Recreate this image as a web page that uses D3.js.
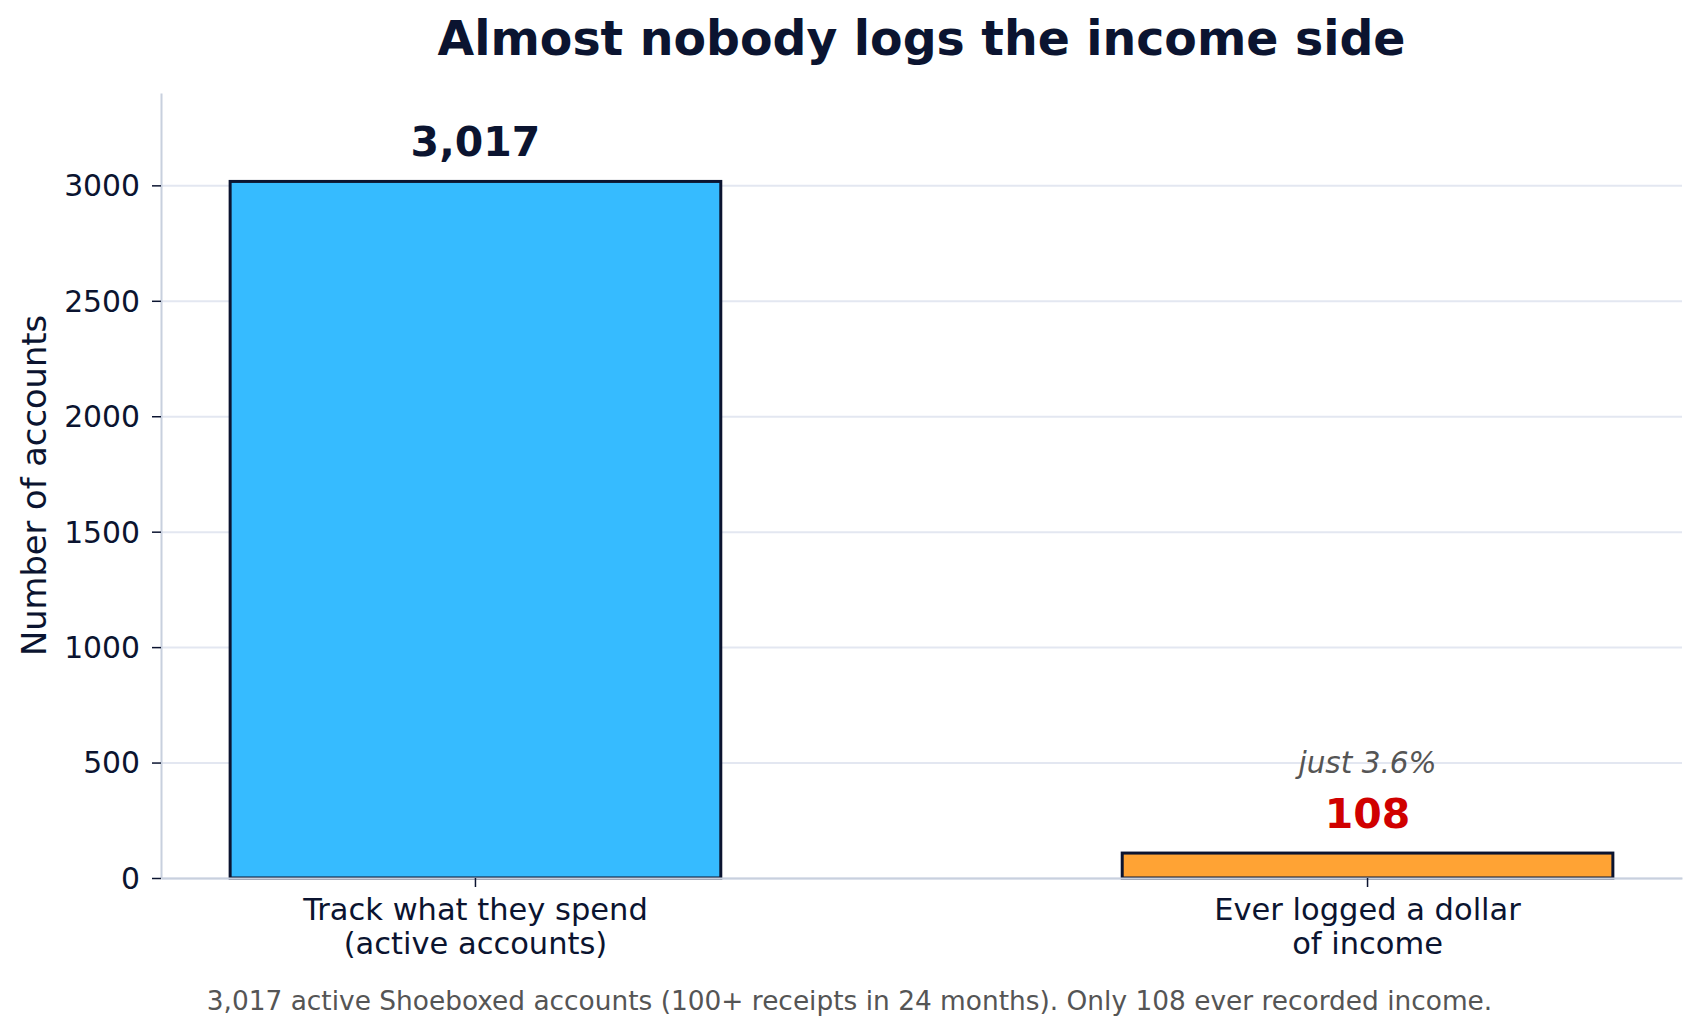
<!DOCTYPE html>
<html>
<head>
<meta charset="utf-8">
<script src="https://cdn.jsdelivr.net/npm/d3@7"></script>
<style>
    body { margin: 0; background: #ffffff; }
    svg { display: block; font-family: "DejaVu Sans", sans-serif; }
    .axis { font-family: "DejaVu Sans", sans-serif; }
    .axis .domain { stroke: #c8d0de; stroke-width: 2; }
    .axis text { fill: #0b1430; font-size: 29.8px; }
    .axis.x-axis text { font-size: 30.5px; }
    .axis line { stroke: #0b1430; stroke-width: 1.5; }
    .grid line { stroke: #e3e7f1; stroke-width: 2; }
    .grid .domain { display: none; }
</style>
</head>
<body>
<svg id="chart" width="1699" height="1036"></svg>
<script>
// chart data
const categories = ["Track what they spend\n(active accounts)", "Ever logged a dollar\nof income"];
const accounts = [3017, 108];
const valueLabels = ["3,017", "108"];
const valueColours = ["#0b1430", "#d00000"];
const barColours = ["#36bbff", "#ffa334"];
const yTicks = [0, 500, 1000, 1500, 2000, 2500, 3000];
const shareNote = "just 3.6%";

const title = "Almost nobody logs the income side";
const yLabel = "Number of accounts";
const footnote = "3,017 active Shoeboxed accounts (100+ receipts in 24 months). Only 108 ever recorded income.";

const svg = d3.select("#chart");
const width = 1699;
const height = 1036;
const margins = {left: 161, right: 17, top: 93, bottom: 158};

const x = d3.scaleBand()
    .domain(d3.range(categories.length))
    .range([margins.left, width - margins.right])
    .paddingInner(0.45)
    .paddingOuter(0.0775);

const y = d3.scaleLinear()
    .domain([0, 3400])
    .range([height - margins.bottom, margins.top]);

// horizontal grid lines first so the bars sit on top
svg.append("g")
    .attr("class", "grid")
    .attr("transform", `translate(${margins.left},0)`)
    .call(d3.axisLeft(y).tickValues(yTicks).tickSize(-(width - margins.left - margins.right)).tickFormat(""));

svg.append("g")
    .selectAll("rect")
    .data(accounts)
    .enter()
    .append("rect")
    .attr("x", (d, i) => x(i))
    .attr("y", d => y(d))
    .attr("width", x.bandwidth())
    .attr("height", d => y(0) - y(d))
    .attr("fill", (d, i) => barColours[i])
    .attr("stroke", "#0b1430")
    .attr("stroke-width", 3);

// y axis
const yAxis = svg.append("g")
    .attr("class", "axis y-axis")
    .attr("transform", `translate(${margins.left},0)`)
    .call(d3.axisLeft(y).tickValues(yTicks).tickSize(9).tickPadding(12).tickSizeOuter(0).tickFormat(d3.format("d")));
yAxis.selectAll("text").attr("dy", "0.35em");

// x axis, two line labels
const xAxis = svg.append("g")
    .attr("class", "axis x-axis")
    .attr("transform", `translate(0,${height - margins.bottom})`)
    .call(d3.axisBottom(x).tickSize(9).tickSizeOuter(0).tickFormat(""));

xAxis.selectAll(".tick")
    .append("text")
    .attr("text-anchor", "middle")
    .selectAll("tspan")
    .data((d, i) => categories[i].split("\n"))
    .enter()
    .append("tspan")
    .attr("x", 0)
    .attr("y", (d, i) => 42 + i * 34)
    .text(d => d);

// value labels above the bars
svg.append("g")
    .selectAll("text")
    .data(accounts)
    .enter()
    .append("text")
    .attr("x", (d, i) => x(i) + x.bandwidth() / 2)
    .attr("y", d => y(d) - 25.5)
    .attr("text-anchor", "middle")
    .style("font-size", "41px")
    .style("font-weight", "bold")
    .attr("fill", (d, i) => valueColours[i])
    .text((d, i) => valueLabels[i]);

svg.append("text")
    .attr("x", x(1) + x.bandwidth() / 2)
    .attr("y", y(accounts[1]) - 80)
    .attr("text-anchor", "middle")
    .style("font-size", "29.5px")
    .style("font-style", "italic")
    .attr("fill", "#555555")
    .text(shareNote);

// title, axis label and footnote
svg.append("text")
    .attr("x", (margins.left + width - margins.right) / 2)
    .attr("y", 55)
    .attr("text-anchor", "middle")
    .style("font-size", "47.4px")
    .style("font-weight", "bold")
    .attr("fill", "#0b1430")
    .text(title);

svg.append("text")
    .attr("transform", `translate(46,${(margins.top + height - margins.bottom) / 2}) rotate(-90)`)
    .attr("text-anchor", "middle")
    .style("font-size", "33.7px")
    .attr("fill", "#0b1430")
    .text(yLabel);

svg.append("text")
    .attr("x", width / 2)
    .attr("y", 1010)
    .attr("text-anchor", "middle")
    .style("font-size", "26.4px")
    .attr("fill", "#555555")
    .text(footnote);
</script>
</body>
</html>
